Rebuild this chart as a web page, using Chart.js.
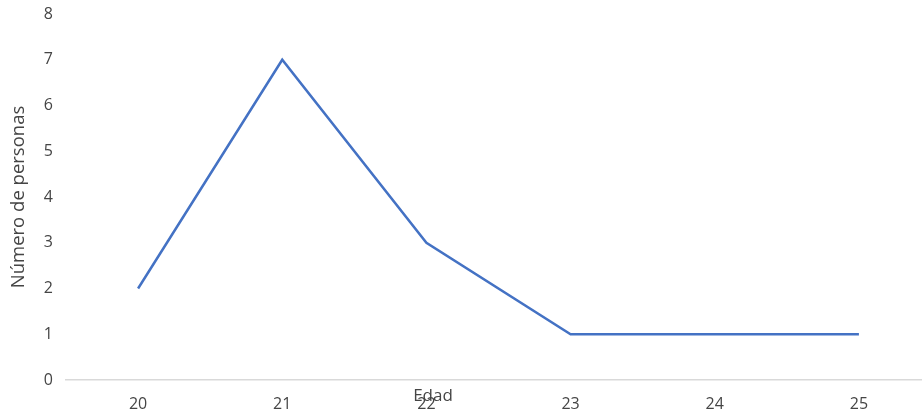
<!DOCTYPE html>
<html><head><meta charset="utf-8">
<script src="https://cdn.jsdelivr.net/npm/chart.js@4/dist/chart.umd.min.js"></script>
<style>html,body{margin:0;padding:0;overflow:hidden;background:#fff;width:922px;height:417px}canvas{display:block}</style>
</head><body>
<canvas id="c" width="940" height="417"></canvas>
<script>
const categories = ['20','21','22','23','24','25'];
const personas = [2, 7, 3, 1, 1, 1];
const yTicks = [0,1,2,3,4,5,6,7,8];
const xTitle = 'Edad';
const yTitle = 'Número de personas';

const edadPlugin = {
  id: 'edad',
  afterDraw(chart) {
    const ctx = chart.ctx;
    ctx.save();
    ctx.font = '17px "Open Sans"';
    ctx.fillStyle = '#454545';
    ctx.textAlign = 'center';
    ctx.textBaseline = 'middle';
    ctx.fillText(xTitle, 433, 396);
    ctx.restore();
  }
};

new Chart(document.getElementById('c'), {
  type: 'line',
  data: { labels: categories, datasets: [{ data: personas, borderColor: '#4472C4', borderWidth: 2.5, pointRadius: 0, tension: 0, fill: false }] },
  options: {
    responsive: false, animation: false,
    layout: { padding: { top: 14, right: 9, left: 0, bottom: 0 } },
    plugins: { legend: { display: false }, tooltip: { enabled: false } },
    scales: {
      x: {
        offset: true,
        grid: { display: false, drawTicks: false, offset: true },
        border: { color: '#d9d9d9', width: 1.5 },
        ticks: { color: '#454545', font: { family: 'Open Sans', size: 16 }, padding: 15, maxRotation: 0 },
        afterFit: s => { s.height = 37; s.paddingLeft = 0; s.paddingRight = 0; }
      },
      y: {
        min: 0, max: 8,
        afterBuildTicks: s => { s.ticks = yTicks.map(v => ({ value: v })); },
        grid: { display: false, drawTicks: false },
        border: { display: false },
        ticks: { color: '#454545', font: { family: 'Open Sans', size: 16 }, padding: 13 },
        title: { display: true, text: yTitle, color: '#454545', font: { family: 'Open Sans', size: 18.5 }, padding: { top: 8, bottom: 0 } },
        afterFit: s => { s.width = 66; s.paddingTop = 0; s.paddingBottom = 0; }
      }
    }
  },
  plugins: [edadPlugin]
});
</script>
</body></html>
